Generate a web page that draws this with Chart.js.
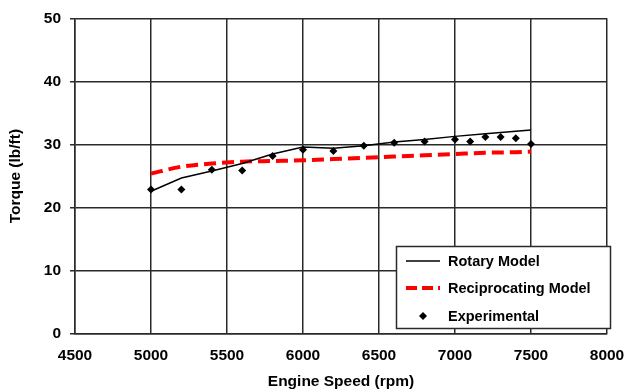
<!DOCTYPE html>
<html>
<head>
<meta charset="utf-8">
<script src="https://cdn.jsdelivr.net/npm/chart.js@4/dist/chart.umd.min.js"></script>
<style>
  html, body { margin: 0; padding: 0; background: #fff; }
  #wrap { width: 624px; height: 391px; position: relative; }
</style>
</head>
<body>
<div id="wrap"><canvas id="c" width="624" height="391"></canvas></div>
<script>
// Engine speed (rpm) and torque (lb/ft) series
const rotarySpeed = [5000, 5200, 5400, 5600, 5800, 6000, 6200, 6400, 6600, 6800, 7000, 7200, 7400, 7500];
const rotaryTorque = [22.6, 24.7, 25.8, 27.0, 28.5, 29.6, 29.4, 29.8, 30.4, 30.8, 31.3, 31.7, 32.1, 32.3];

const recipSpeed = [5000, 5200, 5400, 5600, 5800, 6000, 6200, 6400, 6600, 6800, 7000, 7200, 7400, 7500];
const recipTorque = [25.4, 26.5, 27.0, 27.3, 27.4, 27.5, 27.7, 27.9, 28.1, 28.3, 28.5, 28.7, 28.8, 28.9];

const expSpeed = [5000, 5200, 5400, 5600, 5800, 6000, 6200, 6400, 6600, 6800, 7000, 7100, 7200, 7300, 7400, 7500];
const expTorque = [22.9, 22.9, 26.0, 25.9, 28.2, 29.2, 29.0, 29.8, 30.3, 30.5, 30.8, 30.5, 31.2, 31.2, 31.0, 30.1];

const seriesNames = ['Rotary Model', 'Reciprocating Model', 'Experimental'];
const xTitle = 'Engine Speed (rpm)';
const yTitle = 'Torque (lb/ft)';

const toPoints = (xs, ys) => xs.map((x, i) => ({ x: x, y: ys[i] }));
const FONT = 'Liberation Sans, Arial, sans-serif';
const GRID = '#2a2a2a';

// Boxed legend drawn inside the lower-right of the plot
const boxLegend = {
  id: 'boxLegend',
  afterDraw(chart) {
    const ctx = chart.ctx;
    const x0 = 396, y0 = 246, w = 214, h = 82;
    ctx.save();
    ctx.fillStyle = '#fff';
    ctx.fillRect(x0, y0, w, h);
    ctx.strokeStyle = GRID;
    ctx.lineWidth = 1.5;
    ctx.strokeRect(x0 + 0.5, y0 + 0.5, w, h);
    const rows = [261, 288, 316];
    // line samples
    ctx.beginPath();
    ctx.strokeStyle = '#000';
    ctx.lineWidth = 1.5;
    ctx.moveTo(406, rows[0]); ctx.lineTo(440, rows[0]);
    ctx.stroke();
    ctx.beginPath();
    ctx.strokeStyle = '#ff0000';
    ctx.lineWidth = 4;
    ctx.setLineDash([11, 5]);
    ctx.moveTo(406, rows[1]); ctx.lineTo(440, rows[1]);
    ctx.stroke();
    ctx.setLineDash([]);
    // diamond marker
    ctx.fillStyle = '#000';
    ctx.beginPath();
    ctx.moveTo(423, rows[2] - 4); ctx.lineTo(427, rows[2]);
    ctx.lineTo(423, rows[2] + 4); ctx.lineTo(419, rows[2]);
    ctx.closePath();
    ctx.fill();
    ctx.font = 'bold 14.5px ' + FONT;
    ctx.textBaseline = 'middle';
    ctx.textAlign = 'left';
    seriesNames.forEach((n, i) => ctx.fillText(n, 448, rows[i] + 1));
    ctx.restore();
  }
};

new Chart(document.getElementById('c'), {
  type: 'scatter',
  data: {
    datasets: [
      {
        label: seriesNames[0],
        data: toPoints(rotarySpeed, rotaryTorque),
        showLine: true,
        borderColor: '#000',
        borderWidth: 1.5,
        pointRadius: 0,
        tension: 0,
        order: 2
      },
      {
        label: seriesNames[1],
        data: toPoints(recipSpeed, recipTorque),
        showLine: true,
        borderColor: '#ff0000',
        borderWidth: 4,
        borderDash: [12, 6],
        pointRadius: 0,
        cubicInterpolationMode: 'monotone',
        order: 3
      },
      {
        label: seriesNames[2],
        data: toPoints(expSpeed, expTorque),
        showLine: false,
        pointStyle: 'rectRot',
        pointRadius: 4,
        backgroundColor: '#000',
        borderColor: '#000',
        borderWidth: 0,
        order: 1
      }
    ]
  },
  options: {
    responsive: false,
    animation: false,
    layout: { padding: { top: 16, right: 17, left: 0, bottom: 0 } },
    plugins: { legend: { display: false }, tooltip: { enabled: false } },
    scales: {
      x: {
        type: 'linear',
        min: 4500, max: 8000,
        ticks: {
          stepSize: 500, color: '#000', padding: 12,
          font: { family: FONT, size: 15.5, weight: 'bold' },
          callback: v => String(v)
        },
        grid: { color: GRID, lineWidth: 1.5, drawTicks: false },
        border: { color: GRID, width: 1.5 },
        title: { display: true, text: xTitle, color: '#000', padding: { top: 10, bottom: 0 }, font: { family: FONT, size: 15.5, weight: 'bold' } },
        afterFit(scale) { scale.height = 57; scale.paddingRight = 0; scale.paddingLeft = 0; }
      },
      y: {
        min: 0, max: 50,
        ticks: { stepSize: 10, color: '#000', padding: 9, font: { family: FONT, size: 15.5, weight: 'bold' } },
        grid: { color: GRID, lineWidth: 1.5, tickLength: 5 },
        border: { color: GRID, width: 1.5 },
        title: { display: true, text: yTitle, color: '#000', padding: { top: 6, bottom: 0 }, font: { family: FONT, size: 15.5, weight: 'bold' } },
        afterFit(scale) { scale.width = 75; }
      }
    }
  },
  plugins: [boxLegend]
});
</script>
</body>
</html>
